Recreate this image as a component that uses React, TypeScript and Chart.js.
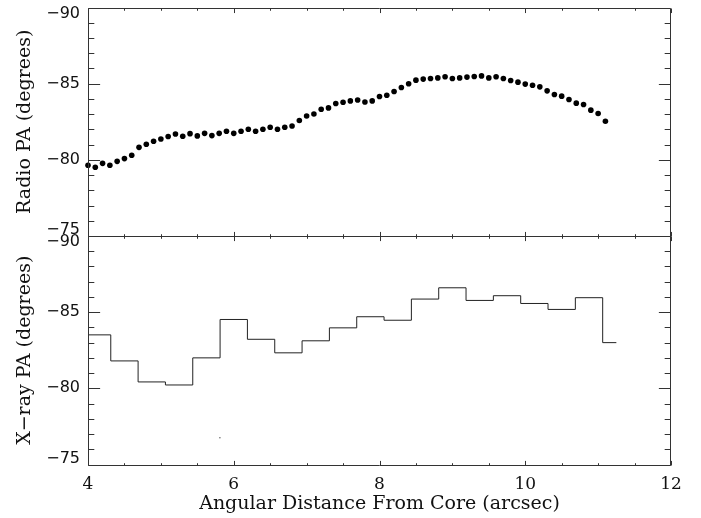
import React, { useEffect, useRef } from 'react';
import { Chart, registerables } from 'chart.js';

Chart.register(...registerables);

// ---- data ----
const radioDistance = [
  4.0, 4.1, 4.2, 4.3, 4.4, 4.5, 4.6, 4.7, 4.8, 4.9,
  5.0, 5.1, 5.2, 5.3, 5.4, 5.5, 5.6, 5.7, 5.8, 5.9,
  6.0, 6.1, 6.2, 6.3, 6.4, 6.5, 6.6, 6.7, 6.8, 6.9,
  7.0, 7.1, 7.2, 7.3, 7.4, 7.5, 7.6, 7.7, 7.8, 7.9,
  8.0, 8.1, 8.2, 8.3, 8.4, 8.5, 8.6, 8.7, 8.8, 8.9,
  9.0, 9.1, 9.2, 9.3, 9.4, 9.5, 9.6, 9.7, 9.8, 9.9,
  10.0, 10.1, 10.2, 10.3, 10.4, 10.5, 10.6, 10.7, 10.8, 10.9,
  11.0, 11.1,
];
const radioPA = [
  -79.64, -79.51, -79.77, -79.64, -79.9, -80.08, -80.3, -80.82, -81.02, -81.22,
  -81.37, -81.53, -81.7, -81.55, -81.72, -81.57, -81.74, -81.59, -81.74, -81.88,
  -81.74, -81.88, -82.01, -81.88, -82.01, -82.14, -82.01, -82.14, -82.22, -82.58,
  -82.88, -83.01, -83.32, -83.41, -83.7, -83.78, -83.87, -83.93, -83.8, -83.87,
  -84.16, -84.24, -84.49, -84.75, -84.99, -85.23, -85.3, -85.34, -85.38, -85.45,
  -85.34, -85.38, -85.43, -85.47, -85.51, -85.38, -85.45, -85.34, -85.21, -85.1,
  -84.97, -84.9, -84.79, -84.53, -84.29, -84.18, -83.96, -83.72, -83.63, -83.26,
  -83.04, -82.53,
];
const xrayBinEdges = [
  4.0, 4.3125, 4.6875, 5.0625, 5.4375, 5.8125, 6.1875, 6.5625, 6.9375, 7.3125,
  7.6875, 8.0625, 8.4375, 8.8125, 9.1875, 9.5625, 9.9375, 10.3125, 10.6875, 11.0625,
  11.25,
];
const xrayPA = [
  -83.51, -81.8, -80.42, -80.22, -82.0, -84.52, -83.22, -82.33, -83.12, -83.97,
  -84.7, -84.47, -85.86, -86.6, -85.77, -86.08, -85.57, -85.18, -85.95, -83.0,
];
const xraySpeckX = [5.81];
const xraySpeckY = [-76.76];

const xTickLabels = [4, 6, 8, 10, 12];
const yTickLabels = [-90, -85, -80, -75];

const X_MIN = 4;
const X_MAX = 12;
const Y_MIN = -90;
const Y_MAX = -75;

const TEXT = '#111';
const AXIS = '#333';
const serif = 'DejaVu Serif';
const sans = 'DejaVu Sans';

const px = (v: number) => Math.round(v) + 0.5;

const framePlugin = {
  id: 'idlFrame',
  afterDatasetsDraw(chart: any) {
    const ctx = chart.ctx as CanvasRenderingContext2D;
    const xs = chart.scales.x;
    const area = chart.chartArea;
    const panels = [chart.scales.yTop, chart.scales.yBot];
    ctx.save();
    ctx.strokeStyle = AXIS;
    ctx.lineWidth = 1;
    const L = px(area.left);
    const R = px(area.right) - 1;
    for (const s of panels) {
      const T = px(s.top);
      const B = px(s.bottom);
      ctx.beginPath();
      ctx.rect(L, T, R - L, B - T);
      ctx.stroke();
      const panelH = B - T;
      const panelW = R - L;
      ctx.beginPath();
      // x ticks (inward, top and bottom)
      for (let v = X_MIN; v <= X_MAX + 1e-9; v += 0.5) {
        const x = px(xs.getPixelForValue(v));
        const major = Math.abs(v % 2) < 1e-9;
        const len = major ? panelH * 0.02 : panelH * 0.01;
        ctx.moveTo(x, T);
        ctx.lineTo(x, T + len);
        ctx.moveTo(x, B);
        ctx.lineTo(x, B - len);
      }
      // y ticks (inward, left and right)
      for (let v = Y_MIN; v <= Y_MAX + 1e-9; v += 1) {
        const y = px(s.getPixelForValue(v));
        const major = Math.abs(v % 5) < 1e-9;
        const len = major ? panelW * 0.02 : panelW * 0.01;
        ctx.moveTo(L, y);
        ctx.lineTo(L + len, y);
        ctx.moveTo(R, y);
        ctx.lineTo(R - len, y);
      }
      ctx.stroke();
    }
    ctx.restore();
  },
};

function fmtY(v: number) {
  return v < 0 ? '\u2212' + Math.abs(v) : String(v);
}

function yScale(title: string) {
  return {
    type: 'linear' as const,
    position: 'left' as const,
    stack: 'panels',
    stackWeight: 1,
    min: Y_MIN,
    max: Y_MAX,
    reverse: true,
    grid: { display: false, drawTicks: false },
    border: { display: false },
    afterBuildTicks: (s: any) => {
      s.ticks = yTickLabels.map((v) => ({ value: v }));
    },
    ticks: {
      autoSkip: false,
      padding: 8,
      color: TEXT,
      font: { family: sans, size: 16, lineHeight: 0.75 },
      callback: (v: any) => {
        const n = Number(v);
        const label = fmtY(n);
        if (n === Y_MIN) return ['', label];
        if (n === Y_MAX) return [label, ''];
        return label;
      },
    },
    title: {
      display: true,
      text: title,
      color: TEXT,
      font: { family: serif, size: 19 },
      padding: { top: 14, bottom: 0 },
    },
    afterFit: (s: any) => {
      s.width = 88;
      s.paddingTop = 0;
      s.paddingBottom = 0;
    },
  };
}

export default function App() {
  const ref = useRef<HTMLCanvasElement | null>(null);
  useEffect(() => {
    if (!ref.current) return;
    const stepPoints = xrayBinEdges.map((e, i) => ({
      x: e,
      y: xrayPA[Math.min(i, xrayPA.length - 1)],
    }));
    const chart = new Chart(ref.current, {
      type: 'scatter',
      data: {
        datasets: [
          {
            label: 'Radio PA',
            data: radioDistance.map((x, i) => ({ x, y: radioPA[i] })),
            yAxisID: 'yTop',
            backgroundColor: '#000',
            borderColor: '#000',
            borderWidth: 0,
            pointRadius: 2.8,
            clip: false as any,
          },
          {
            label: 'X-ray PA',
            type: 'line',
            data: stepPoints,
            yAxisID: 'yBot',
            stepped: 'before',
            borderColor: '#222',
            borderWidth: 1,
            pointRadius: 0,
            fill: false,
          } as any,
          {
            label: 'speck',
            data: xraySpeckX.map((x, i) => ({ x, y: xraySpeckY[i] })),
            yAxisID: 'yBot',
            backgroundColor: '#555',
            borderWidth: 0,
            pointRadius: 0.7,
          },
        ],
      },
      options: {
        animation: false,
        responsive: false,
        devicePixelRatio: 1,
        events: [],
        layout: { padding: { left: 0, top: 7.5, right: 30, bottom: 0 } },
        plugins: {
          legend: { display: false },
          tooltip: { enabled: false },
        },
        scales: {
          x: {
            type: 'linear',
            position: 'bottom',
            min: X_MIN,
            max: X_MAX,
            grid: { display: false, drawTicks: false },
            border: { display: false },
            afterBuildTicks: (s: any) => {
              s.ticks = xTickLabels.map((v) => ({ value: v }));
            },
            ticks: {
              autoSkip: false,
              maxRotation: 0,
              padding: 10,
              color: TEXT,
              font: { family: serif, size: 17 },
            },
            title: {
              display: true,
              text: 'Angular Distance From Core (arcsec)',
              color: TEXT,
              font: { family: serif, size: 19 },
              padding: { top: 0, bottom: 3 },
            },
            afterFit: (s: any) => {
              s.height = 53.5;
              s.paddingLeft = 0;
              s.paddingRight = 0;
            },
          },
          yBot: yScale('X\u2212ray PA (degrees)'),
          yTop: yScale('Radio PA (degrees)'),
        } as any,
      },
      plugins: [framePlugin],
    });
    return () => chart.destroy();
  }, []);
  return (
    <div style={{ position: 'absolute', left: 0, top: 0, width: 701, height: 518, background: '#fff' }}>
      <canvas ref={ref} width={701} height={518} style={{ width: 701, height: 518, display: 'block' }} />
    </div>
  );
}
